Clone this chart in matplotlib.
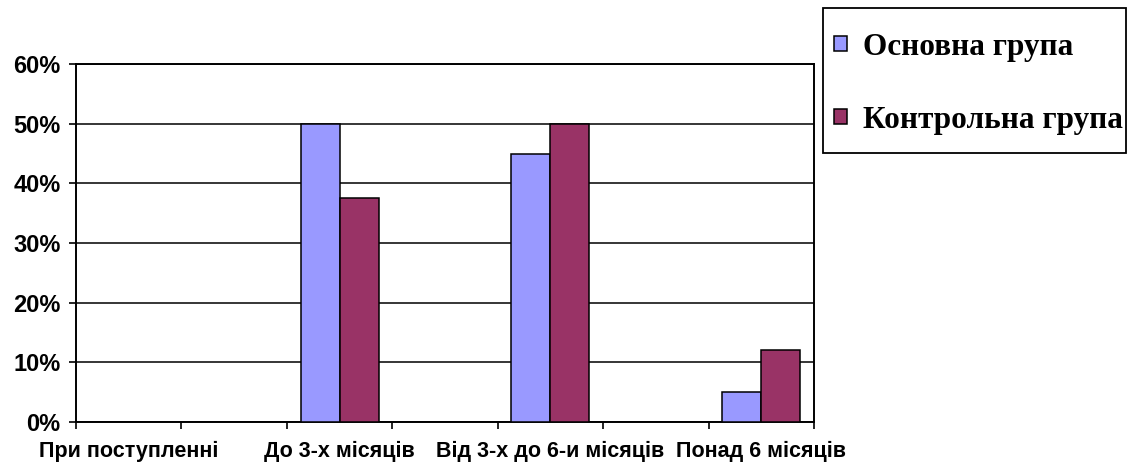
import numpy as np
import matplotlib
matplotlib.use('agg')
import matplotlib.pyplot as plt
from matplotlib.patches import Rectangle
from matplotlib.ticker import PercentFormatter

plt.rcParams['font.family'] = ['Liberation Sans', 'DejaVu Sans']

# seven slots on the category axis, only every other one is labelled
categories = ['При поступленні', '', 'До 3-х місяців', '', 'Від 3-х до 6-и місяців', '', 'Понад 6 місяців']
main_group = [0, 0, 50, 0, 45, 0, 5]
control_group = [0, 0, 37.5, 0, 50, 0, 12]
series_names = ['Основна група', 'Контрольна група']
colors = ['#9999FF', '#993366']

W, H = 1132, 463
fig = plt.figure(figsize=(W/100, H/100), dpi=100)
ax = fig.add_axes([76/W, 1-421.7/H, (814-76)/W, (421.7-64.3)/H])

x = np.arange(len(categories))
w = 0.37
ax.bar(x - w/2, main_group, w, color=colors[0], edgecolor='black', linewidth=1.1, label=series_names[0], zorder=3)
ax.bar(x + w/2, control_group, w, color=colors[1], edgecolor='black', linewidth=1.1, label=series_names[1], zorder=3)

ax.set_xlim(-0.5, len(categories) - 0.5)
ax.set_ylim(0, 60)
ax.set_yticks(np.arange(0, 61, 10))
ax.yaxis.set_major_formatter(PercentFormatter(decimals=0))
ax.grid(axis='y', color='black', linewidth=1.1, zorder=0)

# category boundaries carry the tick marks, labels sit in the middle
ax.set_xticks(np.arange(-0.5, len(categories)))
ax.set_xticklabels([])
ax.set_xticks(x, minor=True)
ax.set_xticklabels(categories, minor=True, fontsize=15.5, fontweight='bold')
ax.tick_params(axis='x', which='minor', length=0, pad=14)
ax.tick_params(axis='x', which='major', length=5, width=1.2, direction='out')
ax.tick_params(axis='y', length=5, width=1.2, direction='out', labelsize=17, pad=6)
for t in ax.get_yticklabels():
    t.set_fontweight('bold')
for s in ax.spines.values():
    s.set_color('black')
    s.set_linewidth(1.4)

# legend box drawn separately so its size does not depend on the padding
fig.patches.append(Rectangle((823/W, 1-153/H), 303/W, 145/H, transform=fig.transFigure,
                             facecolor='white', edgecolor='black', linewidth=1.3, zorder=1))
leg = fig.legend(loc='center left', bbox_to_anchor=(834/W, 1-84/H),
                 prop={'family': 'Liberation Serif', 'weight': 'bold', 'size': 22.5},
                 frameon=False, handlelength=0.42, handleheight=0.36, handletextpad=0.5,
                 labelspacing=1.4, borderpad=0, borderaxespad=0)
leg.set_zorder(2)

fig.savefig('out.png', dpi=100)
